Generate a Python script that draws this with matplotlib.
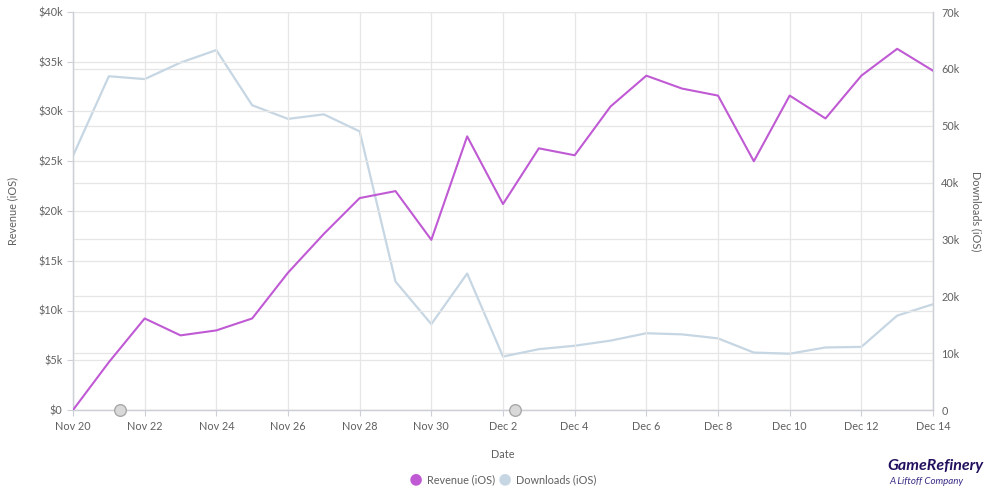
import matplotlib
matplotlib.use("Agg")
import matplotlib.pyplot as plt
import matplotlib.dates as mdates
import numpy as np
import pandas as pd

dates = pd.date_range("2023-11-20", "2023-12-14", freq="D")
revenue_k = [0, 4.8, 9.2, 7.5, 8.0, 9.2, 13.8, 17.7, 21.3, 22.0, 17.1, 27.5, 20.7,
             26.3, 25.6, 30.5, 33.6, 32.3, 31.6, 25.0, 31.6, 29.3, 33.6, 36.3, 34.1]
downloads_k = [44.7, 58.7, 58.2, 61.1, 63.3, 53.6, 51.2, 52.0, 49.0, 22.6, 15.1, 24.0, 9.4,
               10.7, 11.3, 12.2, 13.5, 13.3, 12.6, 10.1, 9.9, 11.0, 11.1, 16.6, 18.6]
left_ticks = [0, 5, 10, 15, 20, 25, 30, 35, 40]
right_ticks = [0, 10, 20, 30, 40, 50, 60, 70]
handle_days = [1.31, 12.34]

plt.rcParams['font.family'] = ['Lato', 'DejaVu Sans']
REV = '#c05ad4'
DL = '#c6d6e3'
TXT = '#606060'
GRID = '#e6e6e6'
AX = '#ccd0d6'
FS = 7.8

fig = plt.figure(figsize=(10, 4.99), dpi=100)
ax = fig.add_axes([0.073, (499 - 410) / 499, 0.860, (410 - 12) / 499])
ax2 = ax.twinx()

x = mdates.date2num(dates)
ax.set_xlim(x[0], x[-1])
ax.set_ylim(0, 40)
ax2.set_ylim(0, 70)

ax.set_yticks(left_ticks)
ax.set_yticklabels([f"${v}k" if v else "$0" for v in left_ticks])
ax2.set_yticks(right_ticks)
ax2.set_yticklabels([f"{v}k" if v else "0" for v in right_ticks])

ax.grid(True, axis='both', color=GRID, lw=0.9)
ax2.grid(True, axis='y', color=GRID, lw=0.9)
ax.set_axisbelow(True)
ax2.set_axisbelow(True)

tick_dates = dates[::2]
ax.set_xticks(mdates.date2num(tick_dates))
ax.set_xticklabels([d.strftime("%b ") + str(d.day) for d in tick_dates])

for a in (ax, ax2):
    a.tick_params(colors=TXT, labelsize=FS, length=4, width=0.8)
    a.tick_params(axis='both', color=AX)
    for s in a.spines.values():
        s.set_color(AX)
        s.set_linewidth(0.9)
    a.spines['top'].set_visible(False)

ax2.tick_params(axis='y', length=0, pad=6)
ax.tick_params(axis='x', pad=4)

ax2.plot(x, downloads_k, color=DL, lw=1.6, zorder=2)
ax.set_zorder(ax2.get_zorder() + 1)
ax.patch.set_visible(False)
ax.plot(x, revenue_k, color=REV, lw=1.5, zorder=3)

ax.scatter(x[0] + np.array(handle_days), [0, 0], s=70, color='#d9d9d9', edgecolor='#a8a8a8',
           lw=1, zorder=5, clip_on=False)

ax.set_xlabel("Date", color=TXT, fontsize=FS, labelpad=12)
ax.set_ylabel("Revenue (iOS)", color=TXT, fontsize=FS, labelpad=14)
ax2.set_ylabel("Downloads (iOS)", color=TXT, fontsize=FS, rotation=270, labelpad=16)

# legend
ly = 1 - 480 / 499
fig.text(0.416, ly, "\u25CF", color=REV, fontsize=17, ha='center', va='center')
fig.text(0.427, ly, "Revenue (iOS)", color=TXT, fontsize=FS, va='center')
fig.text(0.505, ly, "\u25CF", color=DL, fontsize=17, ha='center', va='center')
fig.text(0.516, ly, "Downloads (iOS)", color=TXT, fontsize=FS, va='center')

# logo
fig.text(0.9355, 1 - 466 / 499, "GameRefinery", color='#22105e', fontsize=11.5,
         fontweight='bold', style='italic', ha='center', va='center')
fig.text(0.926, 1 - 481 / 499, "A Liftoff Company", color='#3a2a85', fontsize=7,
         style='italic', ha='center', va='center')

fig.savefig("out.png", dpi=100)
